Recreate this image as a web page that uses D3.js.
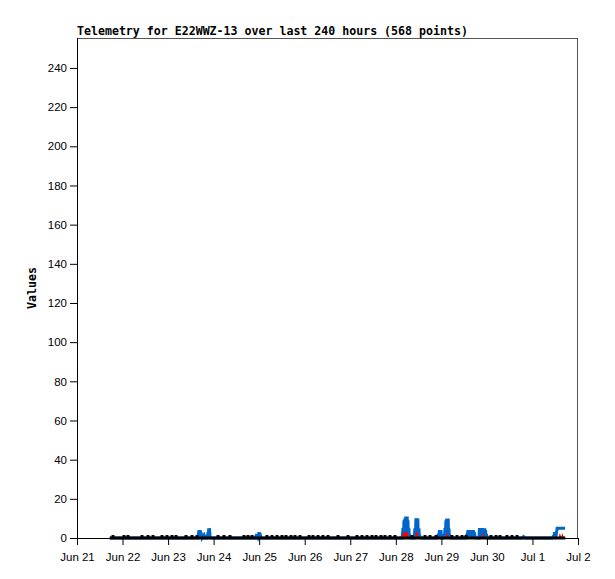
<!DOCTYPE html>
<html><head><meta charset="utf-8">
<script src="https://cdn.jsdelivr.net/npm/d3@7"></script>
<style>body{margin:0;background:#fff}</style>
</head><body>
<svg id="c" width="615" height="579"></svg>
<script>
const titleText = "Telemetry for E22WWZ-13 over last 240 hours (568 points)";
const yLabel = "Values";
const startDate = Date.UTC(2023, 5, 21, 0, 0);
const endDate = Date.UTC(2023, 6, 2, 0, 0);
const yTicks = [0,20,40,60,80,100,120,140,160,180,200,220,240];
const yMax = 255.3;

// [hours since Jun 21 00:00, value]
const blueSeries = [
 [17.3,0],
 [63.8,0],[64.1,3],[64.3,4],[64.6,1],[64.9,4],[65.1,0],[65.3,3],[65.9,0],[66.9,1.5],[67.4,0],
 [68.3,0],[68.5,1.5],[68.7,0],[69.0,3],[69.2,0],[69.4,5],[69.6,1],[69.8,5],[70.1,1],[70.6,0],
 [93.8,0],[94.3,1],[95.1,0],[95.4,2],[95.6,0],[95.9,3],[96.1,0],[96.4,2.5],[96.96,0],
 [171.3,0],[171.6,3],[171.8,5],[172.0,0],[172.3,9],[172.5,0],[172.8,10],[173.0,0],[173.2,11],[173.4,0],
 [173.6,11],[173.8,0],[174.0,11],[174.2,0],[174.4,9],[174.6,0],[174.9,5],[175.1,0],[175.5,1],[176.0,0],
 [177.6,0],[178.1,5],[178.3,0],[178.6,10],[178.8,0],[179.1,10],[179.3,0],[179.6,10],[179.8,0],[180.2,5],[180.4,0],[180.7,1],[181.3,0],
 [189.7,0],[190.5,2],[190.7,0],[191.0,4],[191.2,0],[191.4,4],[191.6,0],[191.8,4],[192.1,0],
 [192.9,0],[193.4,2],[193.6,0],[193.9,5],[194.1,0],[194.4,9],[194.6,0],[194.8,10],[195.0,0],[195.2,10],[195.4,0],[195.6,10],[195.8,0],[196.0,5],[196.2,0],[196.6,1],[197.1,0],
 [205.0,0],[205.5,2],[205.7,0],[206.0,4],[206.2,0],[206.5,4],[206.7,0],[206.9,4],[207.1,0],[207.3,2.5],[207.6,0],[207.9,3],[208.1,0],[208.4,4],[208.6,0],[208.9,4],[209.1,0],[209.3,3],[209.7,1],[210.2,0],
 [211.8,0],[212.1,5],[212.3,0],[212.6,5],[212.8,0],[213.1,5],[213.3,0],[213.6,5],[213.8,3.5],[214.1,0],[214.4,5],[214.6,0],[214.9,5],[215.1,0],[215.3,4],[215.5,0],[215.7,2],[216.3,0],
 [234.5,0],[235.3,0.7],[236.1,0],
 [250.3,0],[251.1,1],[251.3,0],[251.6,3],[251.8,0],[252.1,3],[252.3,0],[252.7,3],[253.0,5],[257.2,5]
];
const redSeries = [
 [17.3,0],
 [171.8,0],[172.1,2.5],[172.3,0],[172.6,2.5],[172.8,0],[173.1,2.5],[173.3,0],[173.6,2.5],[173.9,2.5],[174.2,0],
 [178.9,0],[179.1,3],[179.4,0],
 [194.7,0],[195.0,1],[195.3,0],
 [213.6,0],[213.9,1],[214.2,0],
 [254.3,0],[254.5,0.8],[254.8,0],[255.6,0],[255.8,0.8],[256.1,0],
 [257.2,0]
];
const blackSeries = [[17.3,0],[257.3,0]];
const blackPointHours = [18.97,24.77,26.87,34.25,37.41,40.05,44.79,47.42,50.06,52.17,57.44,60.60,63.23,
 74.30,77.46,80.62,88.00,90.11,92.22,100.12,102.76,105.39,108.03,110.13,112.77,114.88,117.51,
 122.26,124.36,127.00,129.63,132.26,137.53,142.80,147.54,150.18,152.81,155.45,157.56,160.19,
 162.30,164.93,167.57,176.53,183.38,186.01,189.17,197.60,200.24,202.88,204.98,218.16,220.79,
 222.90,226.59,229.22,231.86];
const blackPointValue = 1;

const L = 77, R = 578, T = 38, B = 538;
const svg = d3.select("#c");
const x = d3.scaleUtc().domain([startDate, endDate]).range([L, R]);
const y = d3.scaleLinear().domain([0, yMax]).range([B, T]);
const hx = h => x(startDate + h * 3600000);

// frame
svg.append("line").attr("x1",L).attr("x2",R).attr("y1",T+0.5).attr("y2",T+0.5).attr("stroke","#555");
svg.append("line").attr("x1",R-0.5).attr("x2",R-0.5).attr("y1",T).attr("y2",B).attr("stroke","#555");

const line = d3.line().x(d => hx(d[0])).y(d => y(d[1]));
svg.append("path").datum(blueSeries).attr("d", line).attr("fill","none")
  .attr("stroke","#0066cc").attr("stroke-width",3).attr("stroke-linejoin","miter");
svg.append("path").datum(redSeries).attr("d", line).attr("fill","none")
  .attr("stroke","#ff0000").attr("stroke-width",2);
svg.append("path").datum(blackSeries).attr("d", line).attr("fill","none")
  .attr("stroke","#000").attr("stroke-width",3);
svg.append("g").selectAll("rect").data(blackPointHours).join("rect")
  .attr("x", d => hx(d) - 1.5).attr("y", y(blackPointValue) - 1)
  .attr("width", 3).attr("height", 2).attr("fill", "#000");

// axes
const xAxis = d3.axisBottom(x).ticks(d3.utcDay.every(1)).tickFormat(d3.utcFormat("%b %-d")).tickSize(7).tickSizeOuter(0);
const gx = svg.append("g").attr("transform",`translate(0,${B})`).call(xAxis);
gx.select(".domain").attr("stroke","#000");
gx.selectAll("text").attr("font-family","Liberation Sans, Arial, sans-serif").attr("font-size","11.5px").attr("fill","#000").attr("dy","1.1em");

const yAxis = d3.axisLeft(y).tickValues(yTicks).tickSize(7).tickSizeOuter(0);
const gy = svg.append("g").attr("transform",`translate(${L},0)`).call(yAxis);
gy.select(".domain").attr("stroke","#000").attr("d",`M0.5,${T}V${B}`);
gy.selectAll("text").attr("font-family","Liberation Sans, Arial, sans-serif").attr("font-size","11.5px").attr("fill","#000").attr("x",-10);

svg.append("text").attr("x",L).attr("y",35).text(titleText)
  .attr("font-family","DejaVu Sans Mono, monospace").attr("font-weight","bold").attr("font-size","11.6px");
svg.append("text").attr("transform",`translate(36,${(T+B)/2}) rotate(-90)`).attr("text-anchor","middle").text(yLabel)
  .attr("font-family","DejaVu Sans Mono, monospace").attr("font-weight","bold").attr("font-size","11.6px");
</script>
</body></html>
